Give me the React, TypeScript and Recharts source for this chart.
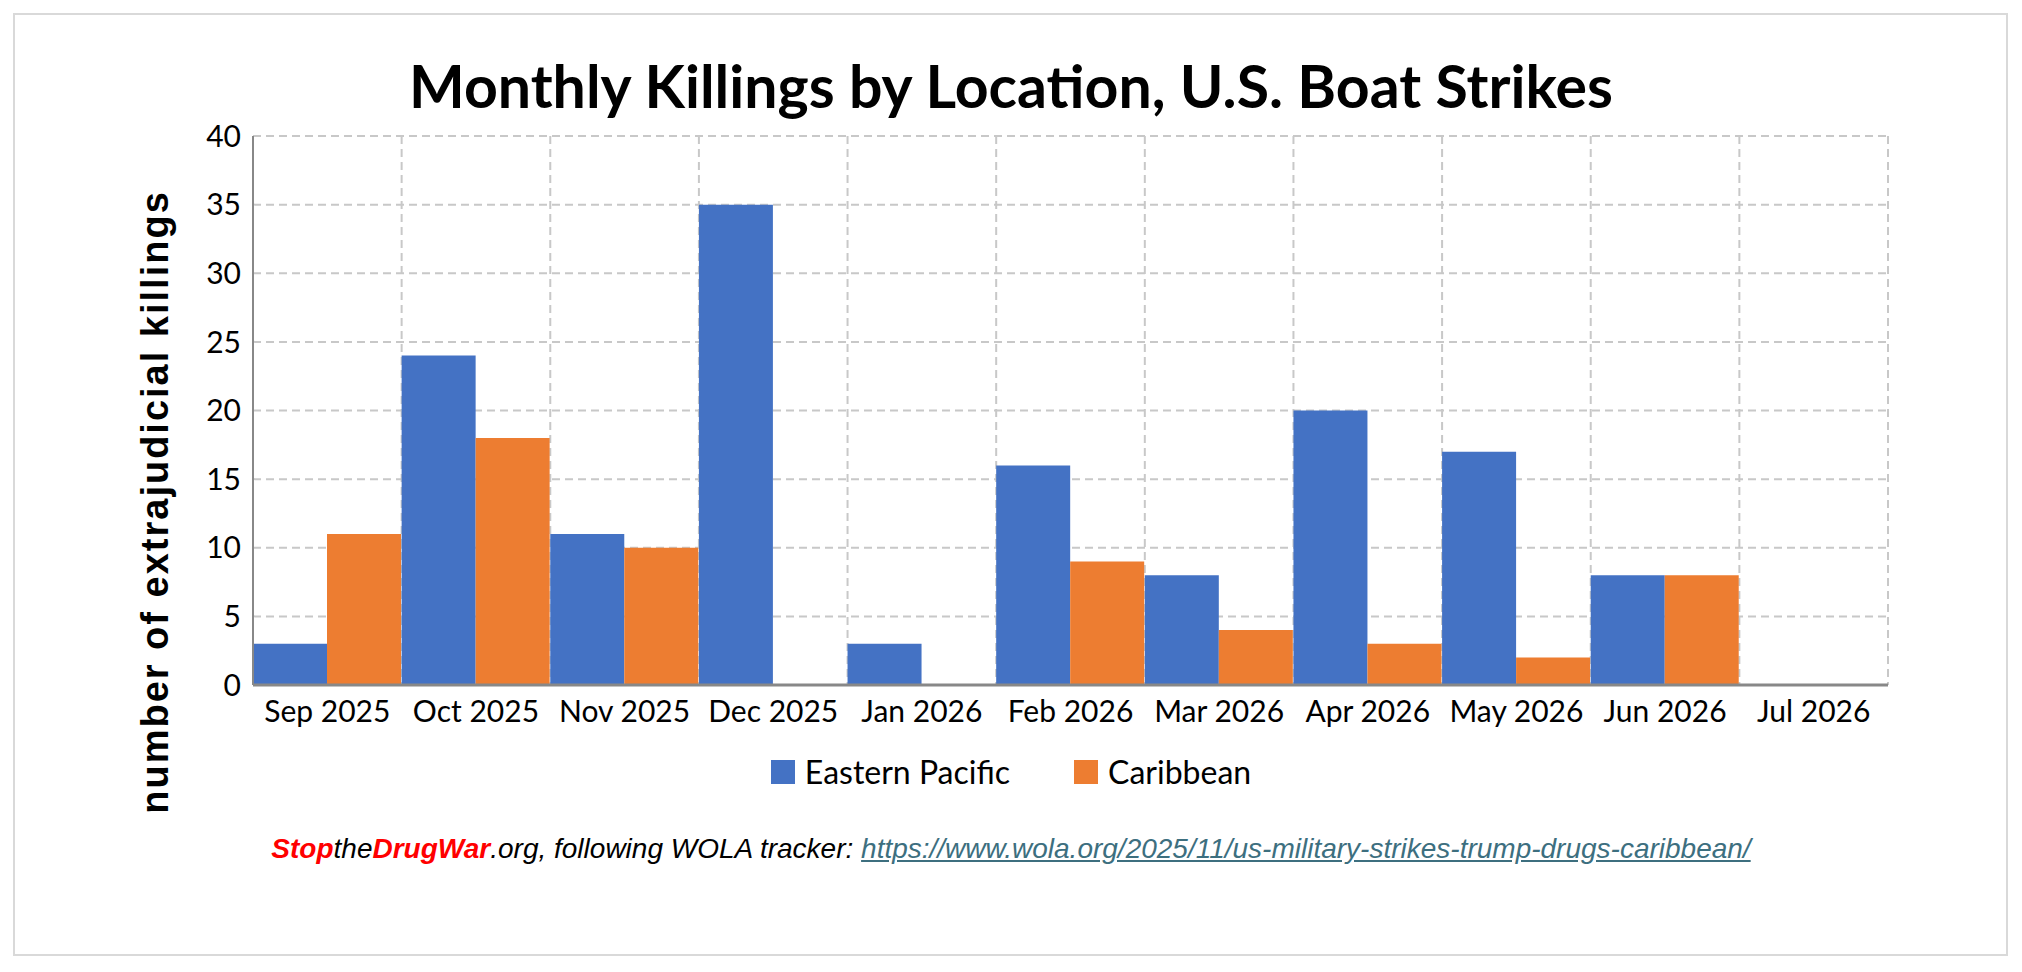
import React from "react";
import { BarChart, Bar, XAxis, YAxis, CartesianGrid } from "recharts";

const months = ["Sep 2025","Oct 2025","Nov 2025","Dec 2025","Jan 2026","Feb 2026","Mar 2026","Apr 2026","May 2026","Jun 2026","Jul 2026"];
const easternPacific = [3,24,11,35,3,16,8,20,17,8,0];
const caribbean = [11,18,10,0,0,9,4,3,2,8,0];
const yTicks = [0,5,10,15,20,25,30,35,40];
const seriesNames = ["Eastern Pacific", "Caribbean"];
const seriesColors = ["#4472C4", "#ED7D31"];

const data = months.map((m, i) => ({ month: m, ep: easternPacific[i], car: caribbean[i] }));

export default function App() {
  return (
    <div style={{ position: "absolute", left: 0, top: 0, width: 2022, height: 972, background: "#fff" }}>
      <div style={{ position: "absolute", left: 13, top: 13, width: 1995, height: 943, border: "2px solid #d9d9d9", boxSizing: "border-box" }} />
      <div style={{ position: "absolute", left: 0, width: 2022, top: 50, textAlign: "center", fontFamily: "Lato", fontWeight: 700, fontSize: 59, lineHeight: "72px", color: "#000" }}>
        Monthly Killings by Location, U.S. Boat Strikes
      </div>
      <div style={{ position: "absolute", left: 155, top: 502, transform: "translate(-50%,-50%) rotate(-90deg)", whiteSpace: "nowrap", fontFamily: "Liberation Sans", fontWeight: 700, fontSize: 38, letterSpacing: 2, color: "#000" }}>
        number of extrajudicial killings
      </div>
      <BarChart width={2022} height={972} data={data} barCategoryGap={0} barGap={0}
        margin={{ top: 136, left: 193, right: 134, bottom: 257 }}>
        <CartesianGrid stroke="#c8c8c8" strokeDasharray="8 5" strokeWidth={2}
          verticalCoordinatesGenerator={({ offset }: any) => Array.from({ length: 12 }, (_, i) => offset.left + (i * offset.width) / 11)} />
        <XAxis dataKey="month" tickLine={false} axisLine={{ stroke: "#888", strokeWidth: 3 }}
          tick={{ fill: "#000", fontFamily: "Lato", fontSize: 30 }} tickMargin={10} interval={0} />
        <YAxis domain={[0, 40]} ticks={yTicks} width={60} tickLine={false} axisLine={{ stroke: "#888", strokeWidth: 2 }}
          tick={{ fill: "#000", fontFamily: "Lato", fontSize: 30 }} tickMargin={6} />
        <Bar dataKey="ep" name={seriesNames[0]} fill={seriesColors[0]} isAnimationActive={false} />
        <Bar dataKey="car" name={seriesNames[1]} fill={seriesColors[1]} isAnimationActive={false} />
      </BarChart>
      <div style={{ position: "absolute", left: 0, width: 2022, top: 752, display: "flex", justifyContent: "center", gap: 64, fontFamily: "Lato", fontSize: 32, color: "#000" }}>
        {seriesNames.map((n, i) => (
          <div key={n} style={{ display: "flex", alignItems: "center", gap: 10 }}>
            <span style={{ width: 24, height: 24, background: seriesColors[i], display: "inline-block" }} />
            <span>{n}</span>
          </div>
        ))}
      </div>
      <div style={{ position: "absolute", left: 0, width: 2022, top: 833, textAlign: "center", fontFamily: "Liberation Sans", fontStyle: "italic", fontSize: 28, color: "#000" }}>
        <b style={{ color: "#f00" }}>Stop</b>the<b style={{ color: "#f00" }}>DrugWar</b>.org, following WOLA tracker:{" "}
        <span style={{ color: "#3d6f7f", textDecoration: "underline" }}>https://www.wola.org/2025/11/us-military-strikes-trump-drugs-caribbean/</span>
      </div>
    </div>
  );
}
